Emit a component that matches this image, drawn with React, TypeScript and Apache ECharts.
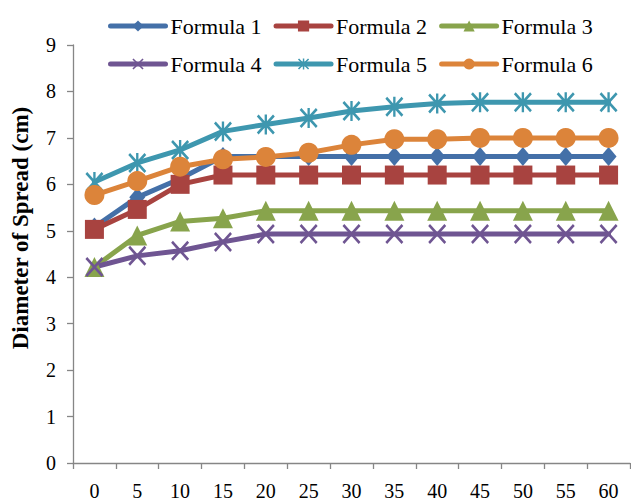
import React, { useEffect, useRef } from "react";
import * as echarts from "echarts";

const categories = ["0", "5", "10", "15", "20", "25", "30", "35", "40", "45", "50", "55", "60"];
const formula1 = [5.08, 5.72, 6.12, 6.6, 6.6, 6.6, 6.6, 6.6, 6.6, 6.6, 6.6, 6.6, 6.6];
const formula2 = [5.03, 5.46, 6.0, 6.2, 6.2, 6.2, 6.2, 6.2, 6.2, 6.2, 6.2, 6.2, 6.2];
const formula3 = [4.22, 4.9, 5.2, 5.27, 5.43, 5.43, 5.43, 5.43, 5.43, 5.43, 5.43, 5.43, 5.43];
const formula4 = [4.22, 4.46, 4.57, 4.76, 4.93, 4.93, 4.93, 4.93, 4.93, 4.93, 4.93, 4.93, 4.93];
const formula5 = [6.05, 6.46, 6.74, 7.14, 7.29, 7.43, 7.58, 7.67, 7.74, 7.77, 7.77, 7.77, 7.77];
const formula6 = [5.77, 6.07, 6.38, 6.54, 6.59, 6.68, 6.85, 6.97, 6.97, 7.0, 7.0, 7.0, 7.0];
const seriesNames = ["Formula 1", "Formula 2", "Formula 3", "Formula 4", "Formula 5", "Formula 6"];
const yTicks = [0, 9, 1];

const colors = ["#4470A8", "#A84340", "#88A44C", "#6F5592", "#3E97AF", "#DC843A"];
const crossPath = "path://M0,2L2,0L20,18L18,20ZM18,0L20,2L2,20L0,18Z";
const starPath = "path://M0,2L2,0L20,18L18,20ZM18,0L20,2L2,20L0,18ZM8.7,0L11.3,0L11.3,20L8.7,20Z";
const symbols = ["diamond", "rect", "triangle", crossPath, starPath, "circle"];
const symbolSizes: any[] = [[16, 19], 19, 20, [18, 20], [18, 20], 20];

const FONT = "Liberation Serif, Times New Roman, serif";

export default function App() {
  const ref = useRef<HTMLDivElement>(null);
  useEffect(() => {
    if (!ref.current) return;
    const chart = echarts.init(ref.current, undefined, { renderer: "svg" });
    const data = [formula1, formula2, formula3, formula4, formula5, formula6];
    const legendCommon = {
      left: 108,
      padding: 0,
      itemWidth: 55,
      itemHeight: 14,
      itemGap: 12,
      textStyle: { fontFamily: FONT, fontSize: 22, color: "#000" },
      lineStyle: { width: 5, cap: "round" },
    };
    chart.setOption({
      animation: false,
      color: colors,
      legend: [
        { ...legendCommon, top: 15, data: seriesNames.slice(0, 3) },
        { ...legendCommon, top: 53, data: seriesNames.slice(3, 6) },
      ],
      grid: { left: 73, right: 1, top: 45, bottom: 36, containLabel: false },
      xAxis: {
        type: "category",
        data: categories,
        boundaryGap: true,
        axisLine: { show: true, lineStyle: { color: "#868686", width: 1.3 } },
        axisTick: { show: true, interval: 0, length: 6, lineStyle: { color: "#868686", width: 1.3 } },
        axisLabel: { interval: 0, margin: 18, fontFamily: FONT, fontSize: 20, color: "#000" },
        splitLine: { show: false },
      },
      yAxis: {
        type: "value",
        min: yTicks[0],
        max: yTicks[1],
        interval: yTicks[2],
        axisLine: { show: true, lineStyle: { color: "#868686", width: 1.3 } },
        axisTick: { show: true, length: 6, lineStyle: { color: "#868686", width: 1.3 } },
        axisLabel: { margin: 17, fontFamily: FONT, fontSize: 20, color: "#000" },
        splitLine: { show: false },
      },
      graphic: [
        {
          type: "text",
          x: 20,
          y: 228,
          rotation: Math.PI / 2,
          style: {
            text: "Diameter of Spread (cm)",
            fontFamily: FONT,
            fontSize: 23,
            fontWeight: "bold",
            fill: "#000",
            align: "center",
            verticalAlign: "middle",
          },
        },
      ],
      series: data.map((d, i) => ({
        name: seriesNames[i],
        type: "line",
        data: d,
        symbol: symbols[i],
        symbolSize: symbolSizes[i],
        showAllSymbol: true,
        lineStyle: { width: 5, color: colors[i], join: "round", cap: "round" },
        itemStyle: { color: colors[i], borderWidth: 0 },
        emphasis: { disabled: true },
      })),
    });
    return () => chart.dispose();
  }, []);
  return (
    <div
      ref={ref}
      style={{ position: "absolute", left: 0, top: 0, width: 631, height: 501, background: "#fff" }}
    />
  );
}
